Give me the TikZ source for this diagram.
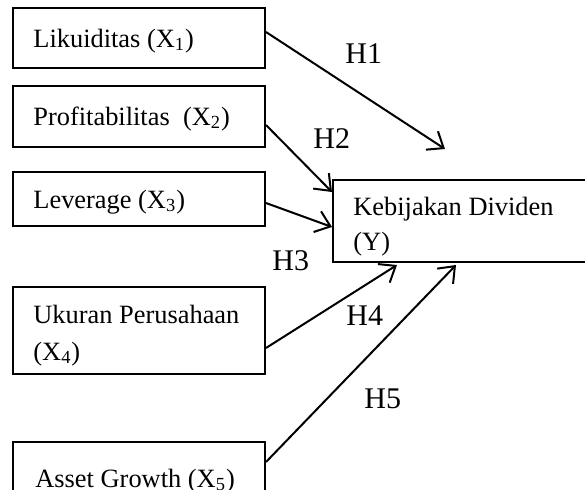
\documentclass[tikz,border=0pt]{standalone}
\usepackage{fontspec}
\setmainfont{Liberation Serif}
\usetikzlibrary{arrows.meta,calc}
\begin{document}
\begin{tikzpicture}[x=0.5pt,y=-0.5pt,
  box/.style={draw,line width=1pt,inner sep=0pt,minimum width=126pt},
  txt/.style={anchor=base west,inner sep=0pt,font=\fontsize{13.2}{16}\selectfont},
  hlab/.style={anchor=base west,inner sep=0pt,font=\fontsize{15}{18}\selectfont},
  arr/.style={line width=1pt,-{Straight Barb[length=7pt,width=11pt,line width=1pt]}}]
\useasboundingbox (0,0) rectangle (585,489);
\clip (0,0) rectangle (585,489);
% boxes
\node[box,minimum height=30pt] (b1) at (139,38) {};
\node[box,minimum height=30.5pt] (b2) at (139,116.5) {};
\node[box,minimum height=27pt] (b3) at (139,199) {};
\node[box,minimum height=43.5pt] (b4) at (139,330.5) {};
\node[box,minimum height=39pt] (b5) at (139,481) {};
\node[draw,line width=1pt,inner sep=0pt,minimum width=143.5pt,minimum height=41pt] (Y) at (476.5,221) {};
% texts
\node[txt] (t1) at (33,47) {Likuiditas (X\textsubscript{1})};
\node[txt] (t2) at (33,125) {Profitabilitas\ \ (X\textsubscript{2})};
\node[txt] (t3) at (33,208) {Leverage (X\textsubscript{3})};
\node[txt] (t4a) at (33,323) {Ukuran Perusahaan};
\node[txt] (t4b) at (33,360) {(X\textsubscript{4})};
\node[txt] (t5) at (35,487) {Asset Growth (X\textsubscript{5})};
\node[txt] (ty1) at (353,215) {Kebijakan Dividen};
\node[txt] (ty2) at (353,250) {(Y)};
% hypothesis labels
\node[hlab] (h1) at (345,63) {H1};
\node[hlab] (h2) at (313,148) {H2};
\node[hlab] (h3) at (272,270) {H3};
\node[hlab] (h4) at (346,325) {H4};
\node[hlab] (h5) at (364,408) {H5};
% arrows
\coordinate (tip1) at (445,149);
\draw[arr] ($(b1.east)+(0,-6)$) -- (tip1);
\draw[arr] ($(b2.east)+(0,8.5)$) -- ($(Y.north west)+(0,13)$);
\draw[arr] ($(b3.east)+(0,4)$) -- ($(Y.west)+(0,6)$);
\draw[arr] ($(b4.east)+(0,17.5)$) -- ($(Y.south west)+(65,2)$);
\draw[arr] ($(b5.east)+(0,-19)$) -- ($(Y.south west)+(124,2)$);
\end{tikzpicture}
\end{document}
